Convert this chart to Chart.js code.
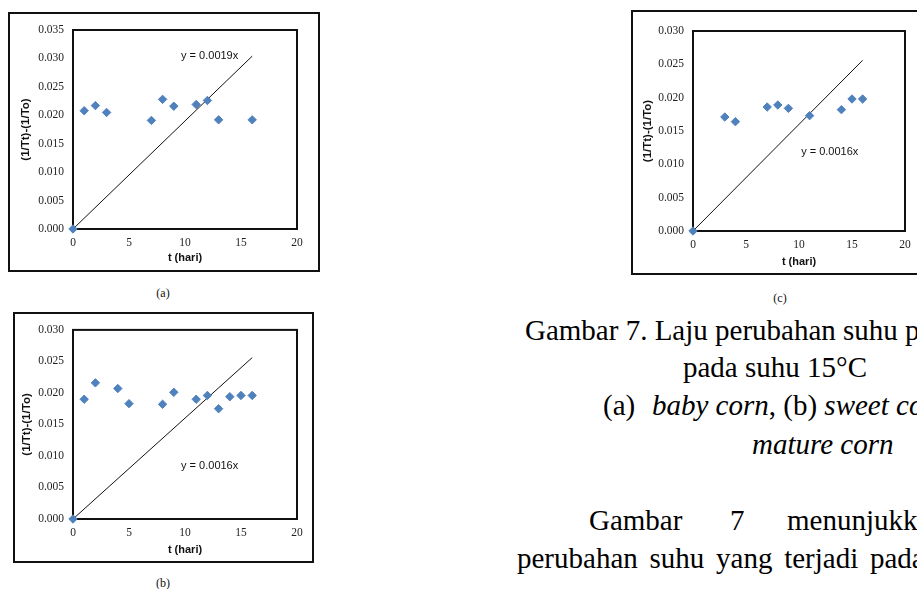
<!DOCTYPE html>
<html>
<head>
<meta charset="utf-8">
<script src="https://cdn.jsdelivr.net/npm/chart.js@4"></script>
<style>
  html, body { margin: 0; padding: 0; background: #fff; width: 917px; height: 589px; overflow: hidden; position: relative; }
  .frame { position: absolute; border: 2px solid #111; box-sizing: border-box; background: #fff; }
  .frame canvas { display: block; }
  .cap { position: absolute; font-family: "Liberation Serif", serif; font-size: 12px; color: #111; transform: translate(-50%, -50%); white-space: nowrap; }
  .txt { position: absolute; font-family: "Liberation Serif", serif; font-size: 29px; line-height: 29px; color: #000; white-space: nowrap; }
  .txt i { font-style: italic; }
</style>
</head>
<body>

<div class="frame" style="left:8px; top:12px; width:312px; height:260px;"><canvas id="chartA" width="308" height="256"></canvas></div>
<div class="cap" style="left:163px; top:293px;">(a)</div>

<div class="frame" style="left:13px; top:312px; width:301px; height:251px;"><canvas id="chartB" width="297" height="247"></canvas></div>
<div class="cap" style="left:163px; top:583px;">(b)</div>

<div class="frame" style="left:631px; top:10px; width:294px; height:265px;"><canvas id="chartC" width="290" height="261"></canvas></div>
<div class="cap" style="left:780px; top:298px;">(c)</div>

<div class="txt" style="left:525px; top:316px;">Gambar 7. Laju perubahan suhu pada</div>
<div class="txt" style="left:683px; top:353px;">pada suhu 15°C</div>
<div class="txt" style="left:603px; top:391px;">(a)</div>
<div class="txt" style="left:652px; top:391px;"><i>baby corn</i>, (b) <i>sweet corn</i></div>
<div class="txt" style="left:752px; top:430px;"><i>mature corn</i></div>
<div class="txt" style="left:589px; top:506px;">Gambar</div>
<div class="txt" style="left:730px; top:506px;">7</div>
<div class="txt" style="left:787px; top:506px;">menunjukkan</div>
<div class="txt" style="left:517px; top:544px; word-spacing:4.5px;">perubahan suhu yang terjadi pada</div>

<script>
// (a) baby corn
const tA = [0, 1, 2, 3, 7, 8, 9, 11, 12, 13, 16];
const valA = [0, 0.0208, 0.0217, 0.0205, 0.0191, 0.0228, 0.0216, 0.0219, 0.0226, 0.0192, 0.0192];
// (b) sweet corn
const tB = [0, 1, 2, 4, 5, 8, 9, 11, 12, 13, 14, 15, 16];
const valB = [0, 0.0190, 0.0216, 0.0207, 0.0183, 0.0182, 0.0201, 0.0190, 0.0196, 0.0175, 0.0194, 0.0196, 0.0196];
// (c) mature corn
const tC = [0, 3, 4, 7, 8, 9, 11, 14, 15, 16];
const valC = [0, 0.0171, 0.0164, 0.0186, 0.0189, 0.0184, 0.0173, 0.0182, 0.0198, 0.0198];

// trend lines (linear through origin), end points
const trendT = [0, 16];
const trendA = [0, 0.0304];
const trendB = [0, 0.0256];
const trendC = [0, 0.0256];
const eqLabels = ['y = 0.0019x', 'y = 0.0016x', 'y = 0.0016x'];

const xTicks = [0, 5, 10, 15, 20];
const yMaxA = 0.035;
const yMaxBC = 0.030;

Chart.defaults.font.family = 'Liberation Sans, Arial, sans-serif';
Chart.defaults.animation = false;

const pts = (xs, ys) => xs.map((x, i) => ({ x: x, y: ys[i] }));

const boxPlugin = {
    id: 'box',
    beforeDatasetsDraw: function(chart) {
        const a = chart.chartArea;
        const ctx = chart.ctx;
        ctx.save();
        ctx.strokeStyle = '#111';
        ctx.lineWidth = 2;
        ctx.strokeRect(a.left, a.top, a.right - a.left, a.bottom - a.top);
        // equation label
        const o = chart.options.plugins.eq;
        ctx.fillStyle = '#111';
        ctx.font = '11px Liberation Sans, Arial, sans-serif';
        ctx.textAlign = 'center';
        ctx.textBaseline = 'middle';
        ctx.fillText(o.text, chart.scales.x.getPixelForValue(o.x), chart.scales.y.getPixelForValue(o.y));
        ctx.restore();
    }
};

function makeChart(id, xs, ys, trend, yMax, eq, g) {
    return new Chart(document.getElementById(id), {
        type: 'scatter',
        data: {
            datasets: [
            {
                data: pts(xs, ys),
                backgroundColor: '#4F81BD',
                borderColor: '#4F81BD',
                pointStyle: 'rectRot',
                pointRadius: 4.2,
                clip: false,
                order: 0
            },
            {
                type: 'line',
                data: pts(trendT, trend),
                borderColor: '#111',
                borderWidth: 1,
                pointRadius: 0,
                fill: false,
                order: 1
            }
            ]
        },
        options: {
            responsive: false,
            layout: { padding: { top: g.top, right: g.right, left: 0, bottom: 0 } },
            plugins: {
                legend: { display: false },
                tooltip: { enabled: false },
                eq: eq
            },
            scales: {
                x: {
                    type: 'linear',
                    min: 0, max: 20,
                    afterBuildTicks: s => { s.ticks = xTicks.map(v => ({ value: v })); },
                    afterFit: s => { s.height = g.xh; },
                    grid: { display: false, drawTicks: false },
                    border: { display: false },
                    ticks: { padding: 7, color: '#222', font: { family: 'Liberation Serif', size: 11.5 }, maxRotation: 0 },
                    title: { display: true, text: 't (hari)', color: '#111', font: { size: 11, weight: 'bold' }, padding: { top: 0, bottom: g.xt } }
                },
                y: {
                    min: 0, max: yMax,
                    afterFit: s => { s.width = g.yw; },
                    grid: { display: false, drawTicks: false },
                    border: { display: false },
                    ticks: { stepSize: 0.005, padding: 9, color: '#222', font: { family: 'Liberation Serif', size: 11.5 },
                             callback: v => v.toFixed(3) },
                    title: { display: true, text: '(1/Tt)-(1/To)', color: '#111', font: { size: 11.5, weight: 'bold' }, padding: { top: g.yt, bottom: 0 } }
                }
            }
        },
        plugins: [boxPlugin]
    });
}

makeChart('chartA', tA, valA, trendA, yMaxA, { text: eqLabels[0], x: 12.2, y: 0.0304 },
    { top: 16, right: 21, xh: 41, yw: 63, xt: 5, yt: 9 });
makeChart('chartB', tB, valB, trendB, yMaxBC, { text: eqLabels[1], x: 12.2, y: 0.0084 },
    { top: 15, right: 15, xh: 42, yw: 58, xt: 4, yt: 5 });
makeChart('chartC', tC, valC, trendC, yMaxBC, { text: eqLabels[2], x: 12.9, y: 0.0119 },
    { top: 19, right: 18, xh: 42, yw: 60, xt: 4, yt: 8 });
</script>
</body>
</html>
